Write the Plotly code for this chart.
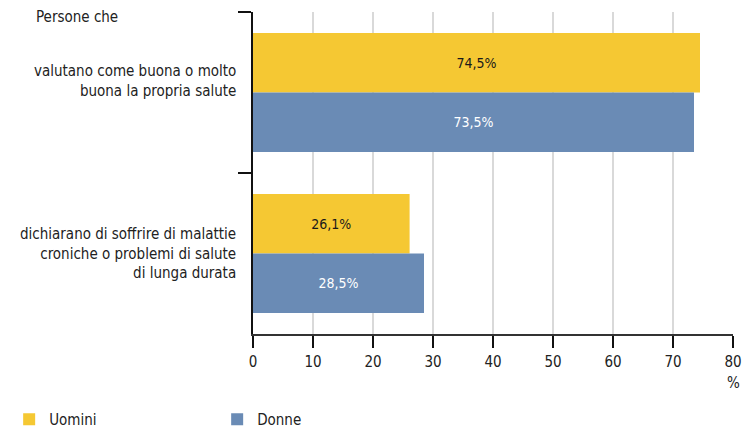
import plotly.graph_objects as go

categories = ["cat1", "cat2"]
category_labels = [
    "valutano come buona o molto<br>buona la propria salute",
    "dichiarano di soffrire di malattie<br>croniche o problemi di salute<br>di lunga durata",
]
uomini = [74.5, 26.1]
donne = [73.5, 28.5]
x_ticks = [0, 10, 20, 30, 40, 50, 60, 70, 80]

FONT = "Liberation Sans Narrow, DejaVu Sans Condensed, Roboto Condensed, Arial Narrow, sans-serif"
YELLOW = "#F5C833"
BLUE = "#6A8BB5"

fig = go.Figure()
fig.add_trace(go.Bar(
    y=categories, x=uomini, orientation="h", name="Uomini",
    marker=dict(color=YELLOW, line=dict(width=0)),
    texttemplate="%{x:.1f}%", textposition="inside", insidetextanchor="middle",
    textfont=dict(color="#1a1a1a", size=14, family=FONT),
))
fig.add_trace(go.Bar(
    y=categories, x=donne, orientation="h", name="Donne",
    marker=dict(color=BLUE, line=dict(width=0)),
    texttemplate="%{x:.1f}%", textposition="inside", insidetextanchor="middle",
    textfont=dict(color="white", size=14, family=FONT),
))

annotations = [
    dict(text="Persone che", xref="paper", yref="paper", x=-0.456, y=0.984,
         xanchor="left", yanchor="middle", showarrow=False,
         font=dict(size=15, color="#222", family=FONT)),
    dict(text="%", xref="x", yref="paper", x=80, y=-0.152,
         xanchor="center", yanchor="middle", showarrow=False,
         font=dict(size=15, color="#222", family=FONT)),
]
shifts = [12, 0]
for c, lab, s in zip(categories, category_labels, shifts):
    annotations.append(dict(
        text=lab, xref="paper", yref="y", x=0, y=c, xshift=-15, yshift=s,
        xanchor="right", yanchor="middle", align="right", showarrow=False,
        font=dict(size=15, color="#222", family=FONT),
    ))

fig.update_layout(
    width=746, height=423,
    margin=dict(l=245, r=21, t=4, b=97, autoexpand=False),
    paper_bgcolor="white", plot_bgcolor="white",
    barmode="group", bargap=0.26, bargroupgap=0,
    separators=",.",
    font=dict(family=FONT, size=15, color="#222"),
    showlegend=True,
    legend=dict(orientation="h", x=-0.508, y=-0.214, xanchor="left", yanchor="top",
                entrywidth=163, entrywidthmode="pixels",
                font=dict(size=15, family=FONT, color="#222"),
                itemclick=False, tracegroupgap=0),
    annotations=annotations,
    xaxis=dict(range=[0, 80], tickvals=x_ticks, showgrid=True, gridcolor="#d9d9d9",
               gridwidth=1.5, zeroline=False, showline=True, linecolor="#333",
               linewidth=1.5, ticks="outside", ticklen=12, tickwidth=1.5,
               tickcolor="#111", ticklabelstandoff=1,
               tickfont=dict(size=15, family=FONT, color="#222"),
               fixedrange=True),
    yaxis=dict(autorange="reversed", showline=True, linecolor="#111", linewidth=1.5,
               ticks="outside", tickson="boundaries", ticklen=13, tickwidth=1.5,
               tickcolor="#111", showticklabels=False, showgrid=False, zeroline=False,
               fixedrange=True),
)

fig.write_html("out.html")
